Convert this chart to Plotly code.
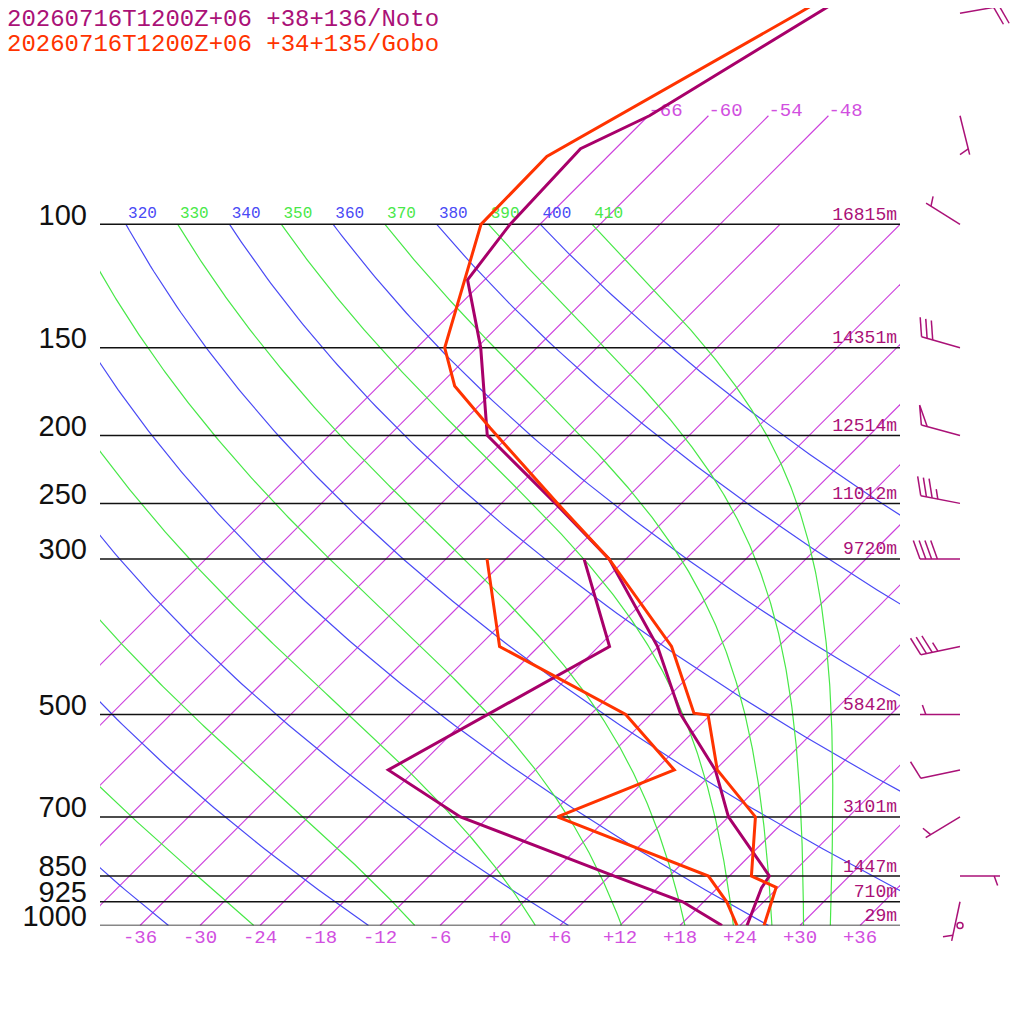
import numpy as np
import plotly.graph_objects as go

# soundings: pressure (hPa), temperature / dew point (degC)
noto_p = [1000, 884, 850, 700, 600, 500, 400, 300, 250, 200, 150, 120, 100, 78, 70, 50, 40]
noto_t = [24.7, 22.4, 22.0, 12.0, 6.0, -3.0, -12.1, -25.7, -36.6, -50.2, -59.6, -67.7, -69.0, -69.5, -65.9, -59.2, -55.0]
noto_td_p = [1000, 925, 850, 700, 600, 400, 300]
noto_td = [22.2, 15.9, 6.5, -14.8, -26.7, -16.9, -28.2]

gobo_p = [1000, 882, 850, 700, 600, 501, 498, 400, 300, 250, 195, 170, 150, 100, 80, 50, 40]
gobo_t = [26.4, 23.8, 20.2, 14.7, 6.2, -0.2, -1.8, -10.7, -25.7, -36.4, -50.7, -58.4, -63.2, -71.9, -72.1, -61.2, -56.6]
gobo_td_p = [1000, 925, 850, 700, 600, 500, 400, 300]
gobo_td = [23.7, 20.3, 15.9, -5.1, 1.9, -8.5, -27.9, -37.9]

# mandatory levels and geopotential heights
levels = [100, 150, 200, 250, 300, 500, 700, 850, 925, 1000]
heights = [16815, 14351, 12514, 11012, 9720, 5842, 3101, 1447, 710, 29]

# winds (direction from, deg / speed, kt)
wind_p = [50, 70, 100, 150, 200, 250, 300, 400, 500, 600, 700, 850, 925, 1000]
wind_dir = [80, 166, 302, 286, 285, 281, 270, 258, 270, 258, 239, 90, 192, 0]
wind_spd = [20, 5, 5, 30, 50, 35, 40, 35, 5, 10, 5, 5, 5, 0]

isotherms = list(range(-66, 37, 6))
dry_thetas = list(range(240, 401, 20))
moist_thetas = list(range(250, 411, 20))
theta_labels = list(range(310, 411, 10))
temp_ticks = list(range(-36, 37, 6))

title_noto = "20260716T1200Z+06 +38+136/Noto"
title_gobo = "20260716T1200Z+06 +34+135/Gobo"

# colours
C_NOTO = "#a8006a"
C_NOTO_TXT = "#aa1177"
C_GOBO = "#ff3300"
C_ISO = "#cc3fdc"
C_DRY = "#4a4af5"
C_MOIST = "#48e848"

MONO = "Liberation Mono"
SKEW = 30.4               # degC per unit ln(p)
PXLN = 700 / np.log(10)   # pixels per unit ln(p)
KAPPA = 0.2857

# page placement (page is drawn 8px in and slightly squeezed vertically)
OFF = 8
KY = 0.9925
Y_BOT = (924 - OFF) / KY          # figure px of the 1000 hPa line
LOG_TOP = 3 - (924 - OFF) / 700   # pressure at the top of the plot
LOG_BOT2 = 3 + (OFF + 1024 * KY - 924) / 700


def skx(t, p):
    return np.asarray(t, float) + SKEW * np.log(1000 / np.asarray(p, float))


def moist_lapse(T, p):
    Rd, cpd, Lv, eps = 287.04, 1005.7, 2.501e6, 0.622
    es = 6.112 * np.exp(17.67 * (T - 273.15) / (T - 29.65))
    rs = eps * es / (p - es)
    return (Rd * T + Lv * rs) / (cpd + Lv ** 2 * rs * eps / (Rd * T ** 2))


def moist_curve(theta):
    lnp = np.linspace(np.log(100), np.log(1000), 300)
    T = theta * 0.1 ** KAPPA
    out = [T]
    for i in range(1, len(lnp)):
        dl = lnp[i] - lnp[i - 1]
        k1 = moist_lapse(T, np.exp(lnp[i - 1]))
        k2 = moist_lapse(T + k1 * dl, np.exp(lnp[i]))
        T = T + 0.5 * (k1 + k2) * dl
        out.append(T)
    return np.exp(lnp), np.array(out) - 273.15


fig = go.Figure()

# isotherms
xs, ys = [], []
for t in isotherms:
    ptop = 70 if t <= -48 else 100
    pp = [1000, ptop]
    xs += list(skx([t, t], pp)) + [None]
    ys += pp + [None]
fig.add_trace(go.Scatter(x=xs, y=ys, mode="lines", line=dict(color=C_ISO, width=1.1), hoverinfo="skip"))

# dry adiabats
pp = np.geomspace(1000, 100, 120)
xs, ys = [], []
for th in dry_thetas:
    t = th * (pp / 1000) ** KAPPA - 273.15
    xs += list(skx(t, pp)) + [None]
    ys += list(pp) + [None]
fig.add_trace(go.Scatter(x=xs, y=ys, mode="lines", line=dict(color=C_DRY, width=1.2), hoverinfo="skip"))

# moist adiabats
xs, ys = [], []
for th in moist_thetas:
    mp, mt = moist_curve(th)
    xs += list(skx(mt, mp)) + [None]
    ys += list(mp) + [None]
fig.add_trace(go.Scatter(x=xs, y=ys, mode="lines", line=dict(color=C_MOIST, width=1.2), hoverinfo="skip"))

# pressure levels
xs, ys = [], []
for p in levels:
    xs += [-40, 40, None]
    ys += [p, p, None]
fig.add_trace(go.Scatter(x=xs, y=ys, mode="lines", line=dict(color="#111111", width=1.5), hoverinfo="skip"))

# theta labels at 100 hPa
for th in theta_labels:
    col = C_DRY if th % 20 == 0 else C_MOIST
    t100 = th * 0.1 ** KAPPA - 273.15
    fig.add_trace(go.Scatter(x=list(skx([t100], [99.3])), y=[99.3], mode="text", text=[str(th)],
                             textposition="top right", cliponaxis=True,
                             textfont=dict(family=MONO, size=16, color=col), hoverinfo="skip"))

# isotherm labels at 70 hPa
iso_top = [t for t in isotherms if t <= -48]
fig.add_trace(go.Scatter(x=list(skx(iso_top, [70] * len(iso_top))), y=[71.2] * len(iso_top), mode="text",
                         text=[str(t) for t in iso_top], textposition="top right",
                         textfont=dict(family=MONO, size=19, color="#d14fe0"), hoverinfo="skip"))

# heights
fig.add_trace(go.Scatter(x=[39.7] * len(levels), y=levels, mode="text",
                         text=[f"{h}m" for h in heights], textposition="top left", cliponaxis=False,
                         textfont=dict(family=MONO, size=18, color=C_NOTO_TXT), hoverinfo="skip"))

# soundings
for p, t, col in [(noto_p, noto_t, C_NOTO), (noto_td_p, noto_td, C_NOTO),
                  (gobo_p, gobo_t, C_GOBO), (gobo_td_p, gobo_td, C_GOBO)]:
    fig.add_trace(go.Scatter(x=skx(t, p), y=p, mode="lines", line=dict(color=col, width=3)))


# wind barbs (pixel x on x2, pressure on y2)
def barb(p0, ddeg, spd, bx=960.0):
    d = np.radians(ddeg)
    ux, uy = np.sin(d), -np.cos(d)
    th = np.radians(70)
    vx, vy = ux * np.cos(th) - uy * np.sin(th), ux * np.sin(th) + uy * np.cos(th)
    tip = (bx + 40 * ux, 40 * uy)
    segs = [[(bx, 0.0), tip]]
    n50 = spd // 50
    n10 = (spd - 50 * n50) // 10
    n5 = (spd - 50 * n50 - 10 * n10) // 5
    pos = 0.0

    def at(s):
        return (tip[0] - ux * s, tip[1] - uy * s)

    for _ in range(n50):
        a = at(pos)
        segs.append([a, (a[0] + 20 * vx, a[1] + 20 * vy), at(pos + 6)])
        pos += 8
    if n50 == 0 and n10 == 0:
        pos = 5.8
    for _ in range(n10):
        a = at(pos)
        segs.append([a, (a[0] + 19.5 * vx, a[1] + 19.5 * vy)])
        pos += 5.8
    for _ in range(n5):
        a = at(pos)
        segs.append([a, (a[0] + 10 * vx, a[1] + 10 * vy)])
    bxs, bys = [], []
    for s in segs:
        bxs += [q[0] for q in s] + [None]
        bys += [p0 * np.exp(q[1] / PXLN) for q in s] + [None]
    return bxs, bys


xs, ys = [], []
for p, dd, sp in zip(wind_p, wind_dir, wind_spd):
    if sp > 0:
        a, b = barb(p, dd, sp)
        xs += a
        ys += b
fig.add_trace(go.Scatter(x=xs, y=ys, mode="lines", line=dict(color=C_NOTO_TXT, width=1.5),
                         xaxis="x2", yaxis="y2", hoverinfo="skip"))
calm = [p for p, s in zip(wind_p, wind_spd) if s == 0]
fig.add_trace(go.Scatter(x=[960] * len(calm), y=calm, mode="markers", cliponaxis=False,
                         marker=dict(symbol="circle-open", size=6, color=C_NOTO_TXT, line=dict(width=1.5)),
                         xaxis="x2", yaxis="y2", hoverinfo="skip"))

# isotherm labels at the right edge (mostly outside the page)
side = [t for t in isotherms if -24 <= t <= 24]
side_p = [1000 * np.exp(-(40 - t) / SKEW - 4 / PXLN) for t in side]
fig.add_trace(go.Scatter(x=[1019] * len(side), y=side_p, mode="text", cliponaxis=False,
                         text=[f"{t:+d}" if t >= 0 else str(t) for t in side], textposition="middle right",
                         textfont=dict(family=MONO, size=19, color="#d14fe0"),
                         xaxis="x2", yaxis="y2", hoverinfo="skip"))

fig.update_layout(
    width=1024, height=1024,
    margin=dict(l=0, r=0, t=0, b=0),
    paper_bgcolor="white", plot_bgcolor="white",
    showlegend=False,
    xaxis=dict(domain=[(100 - OFF) / 1024, (900 - OFF) / 1024], range=[-40, 40], showgrid=False,
               zeroline=False, showline=False, ticks="", tickvals=temp_ticks,
               ticktext=[f"{t:+d}" if t >= 0 else str(t) for t in temp_ticks],
               tickfont=dict(family=MONO, size=19, color="#d14fe0"), ticklabelstandoff=-3, anchor="y"),
    yaxis=dict(domain=[1 - Y_BOT / 1024, 1], type="log", range=[3, LOG_TOP], showgrid=False,
               zeroline=False, showline=False, ticks="", tickvals=levels, ticktext=[str(p) for p in levels],
               tickfont=dict(family="Liberation Sans", size=29, color="#111111"),
               ticklabelstandoff=12, ticklabelshift=10, anchor="x"),
    xaxis2=dict(domain=[(900 - OFF) / 1024, 1], range=[900, 900 + 124 + OFF], visible=False, anchor="y2"),
    yaxis2=dict(domain=[0, 1], type="log", range=[LOG_BOT2, LOG_TOP], visible=False, anchor="x2"),
    annotations=[
        dict(text=title_noto, x=-3 / 1024, y=1 - 12 / 1024, xref="paper", yref="paper", xanchor="left",
             yanchor="middle", showarrow=False, font=dict(family=MONO, size=24, color=C_NOTO_TXT)),
        dict(text=title_gobo, x=-3 / 1024, y=1 - 36.4 / 1024, xref="paper", yref="paper", xanchor="left",
             yanchor="middle", showarrow=False, font=dict(family=MONO, size=24, color=C_GOBO)),
    ],
)

fig.write_html("out.html")
